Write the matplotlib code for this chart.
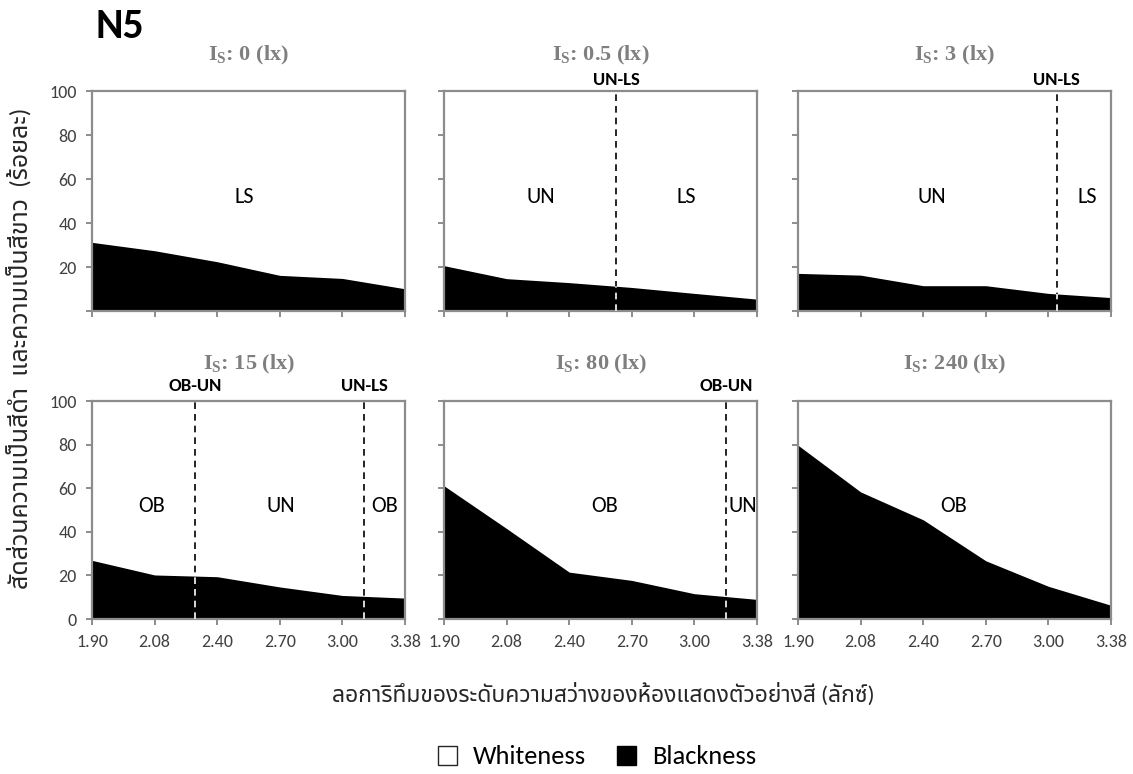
import matplotlib
matplotlib.use("Agg")
import matplotlib.pyplot as plt
from matplotlib.patches import Patch

plt.rcParams['font.family'] = ['Carlito', 'Lato', 'Noto Sans Thai', 'DejaVu Sans']
plt.rcParams['mathtext.fontset'] = 'custom'
plt.rcParams['mathtext.rm'] = 'Liberation Serif'
plt.rcParams['mathtext.bf'] = 'Liberation Serif:bold'

x_labels = ['1.90', '2.08', '2.40', '2.70', '3.00', '3.38']
illum = ['0', '0.5', '3', '15', '80', '240']

# blackness (%); whiteness is the rest up to 100
black_0 = [31.2, 27.4, 22.4, 16.2, 14.8, 10.1]
black_05 = [20.6, 14.7, 12.9, 10.7, 8.0, 5.4]
black_3 = [17.1, 16.3, 11.5, 11.5, 8.0, 6.1]
black_15 = [26.9, 20.2, 19.4, 14.7, 10.8, 9.6]
black_80 = [61.1, 41.5, 21.5, 17.7, 11.6, 9.0]
black_240 = [79.7, 58.3, 45.5, 26.7, 15.0, 6.3]
blackness = [black_0, black_05, black_3, black_15, black_80, black_240]

# dashed boundaries (position on the category axis, label)
bounds = [[], [(2.75, 'UN-LS')], [(4.13, 'UN-LS')],
          [(1.65, 'OB-UN'), (4.35, 'UN-LS')], [(4.5, 'OB-UN')], []]
# zone labels (position on the category axis, label)
zones = [[(2.44, 'LS')], [(1.54, 'UN'), (3.87, 'LS')], [(2.13, 'UN'), (4.62, 'LS')],
         [(0.95, 'OB'), (3.02, 'UN'), (4.68, 'OB')], [(2.56, 'OB'), (4.78, 'UN')],
         [(2.48, 'OB')]]

W, H = 1133, 774
fig = plt.figure(figsize=(W / 100, H / 100), dpi=100)

lefts = [92, 444, 798]
rows = [(91, 311), (401, 619)]
spine_col = '#8c8c8c'
xs = list(range(len(x_labels)))

for i in range(6):
    r, c = divmod(i, 3)
    top, bot = rows[r]
    ax = fig.add_axes([lefts[c] / W, 1 - bot / H, 313 / W, (bot - top) / H])
    vals = blackness[i]
    ax.fill_between(xs, vals, 100, color='white', lw=0)
    fill = ax.fill_between(xs, 0, vals, color='black', lw=0)
    ax.set_xlim(0, len(xs) - 1)
    ax.set_ylim(0, 100)
    ax.set_xticks(xs)
    ax.set_yticks(range(0, 101, 20))
    for s in ax.spines.values():
        s.set_color(spine_col)
        s.set_linewidth(1.6)
    ax.tick_params(direction='out', length=4, width=1.4, color=spine_col,
                   labelsize=13, labelcolor='#404040', pad=7)
    if r == 1:
        ax.set_xticklabels(x_labels)
    else:
        ax.set_xticklabels([])
    if c == 0:
        ylabs = [str(v) for v in range(0, 101, 20)]
        if r == 0:
            ylabs[0] = ''
        ax.set_yticklabels(ylabs)
    else:
        ax.set_yticklabels([])

    lab_off = 11 if r == 0 else 15
    for bx, bl in bounds[i]:
        ax.plot([bx, bx], [0, 100], color='black', ls=(0, (4, 3)), lw=1.2, zorder=3)
        wl, = ax.plot([bx, bx], [0, 100], color='white', ls=(0, (4, 3)), lw=1.2, zorder=4)
        wl.set_clip_path(fill.get_paths()[0], fill.get_transform())
        ax.annotate(bl, (bx, 100), xycoords='data', xytext=(0, lab_off * 0.72),
                    textcoords='offset points', ha='center', va='center',
                    fontsize=13.5, fontweight='bold', color='black', annotation_clip=False)
    for zx, zl in zones[i]:
        ax.text(zx, 52, zl, ha='center', va='center', fontsize=16, color='black')

    title_off = 36 if r == 0 else 37
    ax.annotate(r'$\mathbf{I_S}$: ' + illum[i] + ' (lx)', (0.5, 1), xycoords='axes fraction',
                xytext=(0, title_off * 0.72), textcoords='offset points',
                ha='center', va='center', fontsize=16, fontweight='bold',
                family='Liberation Serif', color='#7f7f7f')

fig.text(95 / W, 1 - 26 / H, 'N5', fontsize=30, fontweight='bold', va='center', ha='left')
fig.text(603 / W, 1 - 694 / H, 'ลอการิทึมของระดับความสว่างของห้องแสดงตัวอย่างสี (ลักซ์)',
         ha='center', va='center', fontsize=16.5, color='#262626')
fig.text(20 / W, 1 - 348 / H, 'สัดส่วนความเป็นสีดำ  และความเป็นสีขาว  (ร้อยละ)',
         ha='center', va='center', rotation=90, fontsize=18, color='#262626')

handles = [Patch(facecolor='white', edgecolor='#262626', lw=1, label='Whiteness'),
           Patch(facecolor='black', edgecolor='black', lw=1, label='Blackness')]
fig.legend(handles=handles, loc='center', bbox_to_anchor=(597 / W, 1 - 757 / H), ncol=2,
           frameon=False, fontsize=19, handlelength=0.7, handleheight=0.7,
           handletextpad=0.6, columnspacing=1.2)

fig.savefig('out.png', dpi=100)
